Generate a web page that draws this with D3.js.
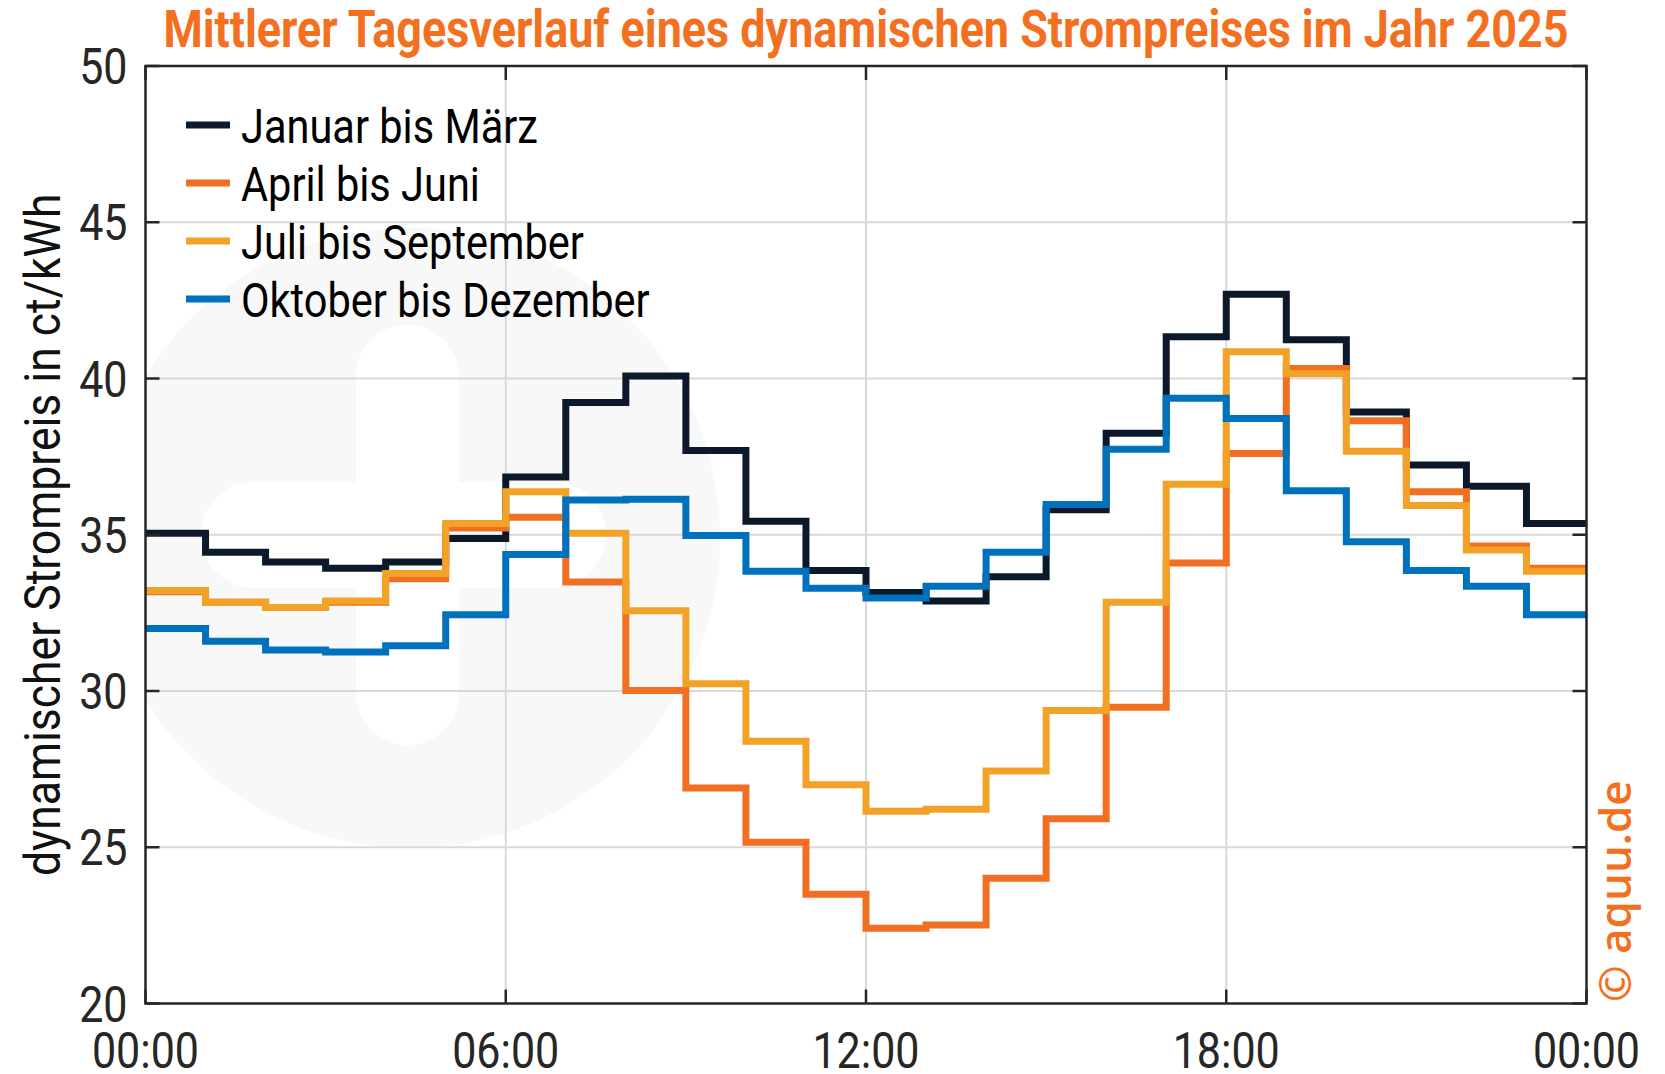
<!DOCTYPE html>
<html>
<head>
<meta charset="utf-8">
<script src="https://cdn.jsdelivr.net/npm/d3@7"></script>
<style>
  body { margin: 0; background: #fff; }
  svg { display: block; font-family: Roboto, "Noto Sans", sans-serif; }
</style>
</head>
<body>
<svg id="chart"></svg>
<script>
// hourly mean prices in ct/kWh, value holds from hour h to h+1
const hours = d3.range(0, 24)
const janMar = [35.05, 34.44, 34.13, 33.93, 34.13, 34.88, 36.85, 39.23, 40.08, 37.70, 35.43, 33.86,
    33.15, 32.88, 33.66, 35.80, 38.25, 41.34, 42.70, 41.24, 38.93, 37.23, 36.55, 35.36]
const aprJun = [33.18, 32.84, 32.67, 32.84, 33.59, 35.22, 35.56, 33.49, 30.02, 26.90, 25.16, 23.50,
    22.41, 22.51, 24.01, 25.91, 29.48, 34.10, 37.60, 40.32, 38.65, 36.38, 34.64, 33.93]
const julSep = [33.22, 32.84, 32.67, 32.88, 33.76, 35.36, 36.38, 35.05, 32.57, 30.23, 28.39, 27.00,
    26.15, 26.22, 27.44, 29.38, 32.84, 36.62, 40.86, 40.15, 37.67, 35.94, 34.51, 33.83]
const oktDez = [32.00, 31.59, 31.31, 31.25, 31.45, 32.44, 34.37, 36.11, 36.14, 34.98, 33.83, 33.29,
    32.98, 33.35, 34.44, 35.97, 37.74, 39.37, 38.72, 36.41, 34.78, 33.86, 33.35, 32.44]

const seriesNames = ['Januar bis März', 'April bis Juni', 'Juli bis September', 'Oktober bis Dezember']
const seriesColors = ['#0c192b', '#f26f22', '#f2a227', '#0072bd']
const yTicks = [20, 25, 30, 35, 40, 45, 50]
const xTicks = [0, 6, 12, 18, 24]
const xTickLabels = ['00:00', '06:00', '12:00', '18:00', '00:00']

const width = 1665
const height = 1074
const margin = {left: 145.5, right: 78.5, top: 66, bottom: 70.5}

const svg = d3.select('#chart')
    .attr('width', width)
    .attr('height', height)

svg.append('rect').attr('width', width).attr('height', height).attr('fill', '#fff')

const x = d3.scaleLinear().domain([0, 24]).range([margin.left, width - margin.right])
const y = d3.scaleLinear().domain([20, 50]).range([height - margin.bottom, margin.top])

// squeeze text horizontally to get a condensed look
function condense(sel, factor) {
    sel.each(function () {
        const w = this.getComputedTextLength()
        d3.select(this).attr('textLength', w * factor).attr('lengthAdjust', 'spacingAndGlyphs')
    })
}

svg.append('clipPath').attr('id', 'plotclip')
    .append('rect')
    .attr('x', x(0)).attr('y', y(50))
    .attr('width', x(24) - x(0)).attr('height', y(20) - y(50))

// faint logo watermark behind the data
const wm = svg.append('g').attr('clip-path', 'url(#plotclip)')
wm.append('circle').attr('cx', 410).attr('cy', 538).attr('r', 310).attr('fill', '#f8f8f8')
wm.append('rect').attr('x', 201).attr('y', 482).attr('width', 405).attr('height', 106)
    .attr('rx', 53).attr('fill', '#fff')
wm.append('rect').attr('x', 356).attr('y', 325).attr('width', 103).attr('height', 420)
    .attr('rx', 51).attr('fill', '#fff')

// grid
const grid = svg.append('g').attr('stroke', '#d9d9d9').attr('stroke-width', 2)
grid.selectAll('.gy').data(yTicks.slice(1, -1)).join('line')
    .attr('x1', x(0)).attr('x2', x(24))
    .attr('y1', d => y(d)).attr('y2', d => y(d))
grid.selectAll('.gx').data(xTicks.slice(1, -1)).join('line')
    .attr('y1', y(20)).attr('y2', y(50))
    .attr('x1', d => x(d)).attr('x2', d => x(d))

// step lines
const line = d3.line()
    .x(d => x(d[0]))
    .y(d => y(d[1]))
    .curve(d3.curveStepAfter)

const allSeries = [janMar, aprJun, julSep, oktDez]
const lines = svg.append('g').attr('clip-path', 'url(#plotclip)')
allSeries.forEach((vals, i) => {
    const pts = hours.map(h => [h, vals[h]])
    pts.push([24, vals[vals.length - 1]])
    lines.append('path')
        .attr('d', line(pts))
        .attr('fill', 'none')
        .attr('stroke', seriesColors[i])
        .attr('stroke-width', 7)
        .attr('stroke-linejoin', 'miter')
        .attr('stroke-linecap', 'square')
})

// axes box with inward ticks on all sides
const axisColor = '#262626'
const tickLen = 14
const axes = svg.append('g').attr('stroke', axisColor).attr('stroke-width', 2.5)
axes.append('rect')
    .attr('x', x(0)).attr('y', y(50))
    .attr('width', x(24) - x(0)).attr('height', y(20) - y(50))
    .attr('fill', 'none')
axes.selectAll('.tl').data(yTicks).join('line')
    .attr('x1', x(0)).attr('x2', x(0) + tickLen)
    .attr('y1', d => y(d)).attr('y2', d => y(d))
axes.selectAll('.tr').data(yTicks).join('line')
    .attr('x1', x(24)).attr('x2', x(24) - tickLen)
    .attr('y1', d => y(d)).attr('y2', d => y(d))
axes.selectAll('.tb').data(xTicks).join('line')
    .attr('y1', y(20)).attr('y2', y(20) - tickLen)
    .attr('x1', d => x(d)).attr('x2', d => x(d))
axes.selectAll('.tt').data(xTicks).join('line')
    .attr('y1', y(50)).attr('y2', y(50) + tickLen)
    .attr('x1', d => x(d)).attr('x2', d => x(d))

// tick labels
svg.append('g').selectAll('text').data(yTicks).join('text')
    .attr('x', x(0) - 18)
    .attr('y', d => y(d) + 18)
    .attr('text-anchor', 'end')
    .attr('font-size', 50)
    .attr('fill', axisColor)
    .text(d => d)
    .call(condense, 0.86)

svg.append('g').selectAll('text').data(xTicks).join('text')
    .attr('x', d => x(d))
    .attr('y', y(20) + 64)
    .attr('text-anchor', 'middle')
    .attr('font-size', 50)
    .attr('fill', axisColor)
    .text((d, i) => xTickLabels[i])
    .call(condense, 0.86)

// y axis title
svg.append('text')
    .attr('transform', `translate(60,${(y(20) + y(50)) / 2}) rotate(-90)`)
    .attr('text-anchor', 'middle')
    .attr('font-size', 50)
    .attr('fill', '#111')
    .text('dynamischer Strompreis in ct/kWh')
    .call(condense, 0.89)

// chart title
svg.append('text')
    .attr('x', (x(0) + x(24)) / 2)
    .attr('y', 47)
    .attr('text-anchor', 'middle')
    .attr('font-size', 51)
    .attr('font-weight', 'bold')
    .attr('fill', '#f37021')
    .text('Mittlerer Tagesverlauf eines dynamischen Strompreises im Jahr 2025')
    .call(condense, 0.88)

// legend
const legend = svg.append('g')
seriesNames.forEach((name, i) => {
    const ly = 125 + i * 58
    legend.append('line')
        .attr('x1', 186).attr('x2', 230)
        .attr('y1', ly).attr('y2', ly)
        .attr('stroke', seriesColors[i])
        .attr('stroke-width', 7)
    legend.append('text')
        .attr('x', 241)
        .attr('y', ly + 18)
        .attr('font-size', 48)
        .attr('fill', '#000')
        .text(name)
        .call(condense, 0.865)
})

// copyright note on the right
svg.append('text')
    .attr('transform', `translate(1631,1002) rotate(-90)`)
    .attr('font-size', 44)
    .attr('font-weight', 600)
    .attr('font-family', '"Open Sans", sans-serif')
    .attr('fill', '#f37021')
    .text('© aquu.de')
</script>
</body>
</html>
